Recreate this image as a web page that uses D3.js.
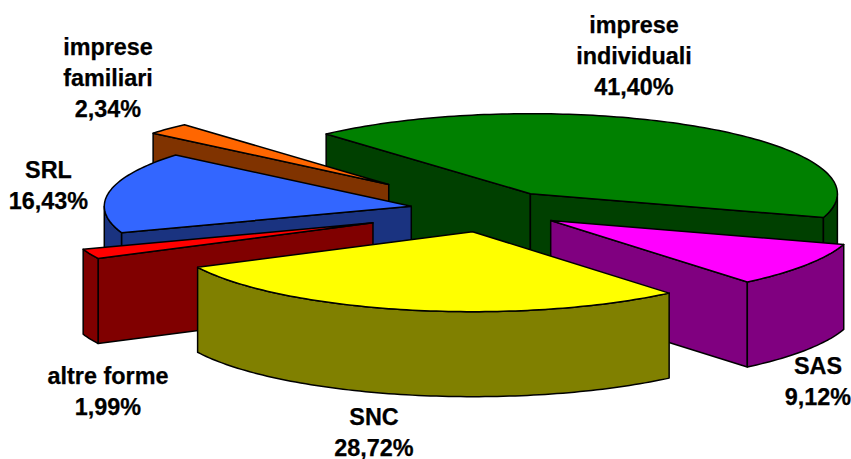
<!DOCTYPE html>
<html>
<head>
<meta charset="utf-8">
<script src="https://cdnjs.cloudflare.com/ajax/libs/d3/7.8.5/d3.min.js"></script>
<style>
html,body{margin:0;padding:0;background:#fff;}
svg{display:block;}
text{font-family:"Liberation Sans",Arial,sans-serif;font-weight:bold;fill:#000;stroke:#000;stroke-width:0.25px;}
</style>
</head>
<body>
<script>
// Data
const categories = ["imprese\nindividuali", "SAS", "SNC", "altre forme", "SRL", "imprese\nfamiliari"];
const values = [41.40, 9.12, 28.72, 1.99, 16.43, 2.34];
// Styles
const topColors = ["#008000", "#FF00FF", "#FFFF00", "#FF0000", "#3366FF", "#FF6600"];
const sideColors = ["#004000", "#800080", "#808000", "#800000", "#1A3380", "#803300"];
// Layout
const explode = [74.5, 73, 85, 127, 80, 141];
const paintOrder = [0, 5, 4, 1, 3, 2];
const labelCentres = [[634, 33], [818, 374], [374, 424.5], [108, 384], [48.5, 178], [108, 54.5]];

const W = 851, H = 459, cx = 490, cy = 210, rx = 307, ry = 80, depth = 85;
const lineGap = 31, fontSize = 23.4;

const svg = d3.select("body").append("svg").attr("width", W).attr("height", H);

const pie = d3.pie().sort(null).value(d => d)
  .startAngle(-41.7 * Math.PI / 180).endAngle((360 - 41.7) * Math.PI / 180);
const arcs = pie(values);

// Projected pie: angle is clockwise from 12 o'clock, squashed vertically
const px = d3.scaleLinear().domain([-1, 1]).range([-rx, rx]);
const py = d3.scaleLinear().domain([-1, 1]).range([-ry, ry]);
const line = d3.line().x(d => d[0]).y(d => d[1]);
const rimPoints = (apex, a0, a1, dy) => {
  const n = Math.max(2, Math.ceil((a1 - a0) / 0.02));
  return d3.range(n + 1).map(i => {
    const t = a0 + (a1 - a0) * i / n;
    return [apex[0] + px(Math.sin(t)), apex[1] + py(-Math.cos(t)) + dy];
  });
};
const wallPath = (apex, a) => {
  const e = rimPoints(apex, a, a, 0)[0];
  return line([apex, e, [e[0], e[1] + depth], [apex[0], apex[1] + depth]]) + "Z";
};

paintOrder.forEach(i => {
  const d = arcs[i];
  const mid = (d.startAngle + d.endAngle) / 2;
  const apex = [cx + Math.sin(mid) * explode[i], cy - Math.cos(mid) * explode[i] * ry / rx];
  const g = svg.append("g").attr("stroke", "#000").attr("stroke-width", 1.5)
    .attr("stroke-linejoin", "round");

  // Radial walls that face the viewer
  if (Math.sin(d.startAngle) < 0) g.append("path").attr("d", wallPath(apex, d.startAngle)).attr("fill", sideColors[i]);
  if (Math.sin(d.endAngle) > 0) g.append("path").attr("d", wallPath(apex, d.endAngle)).attr("fill", sideColors[i]);

  // Outer wall: only the part in the front half of the ellipse
  const lo = Math.max(d.startAngle, Math.PI / 2), hi = Math.min(d.endAngle, 3 * Math.PI / 2);
  if (hi > lo) {
    const upper = rimPoints(apex, lo, hi, 0), lower = rimPoints(apex, lo, hi, depth).reverse();
    g.append("path").attr("d", line(upper.concat(lower)) + "Z").attr("fill", sideColors[i]);
  }

  // Top face
  g.append("path")
    .attr("d", line([apex].concat(rimPoints(apex, d.startAngle, d.endAngle, 0))) + "Z")
    .attr("fill", topColors[i]);
});

// Labels
categories.forEach((c, i) => {
  const lines = c.split("\n").concat(values[i].toFixed(2).replace(".", ",") + "%");
  const t = svg.append("text").attr("text-anchor", "middle").attr("font-size", fontSize);
  lines.forEach((s, j) => t.append("tspan")
    .attr("x", labelCentres[i][0]).attr("y", labelCentres[i][1] + j * lineGap).text(s));
});
</script>
</body>
</html>
